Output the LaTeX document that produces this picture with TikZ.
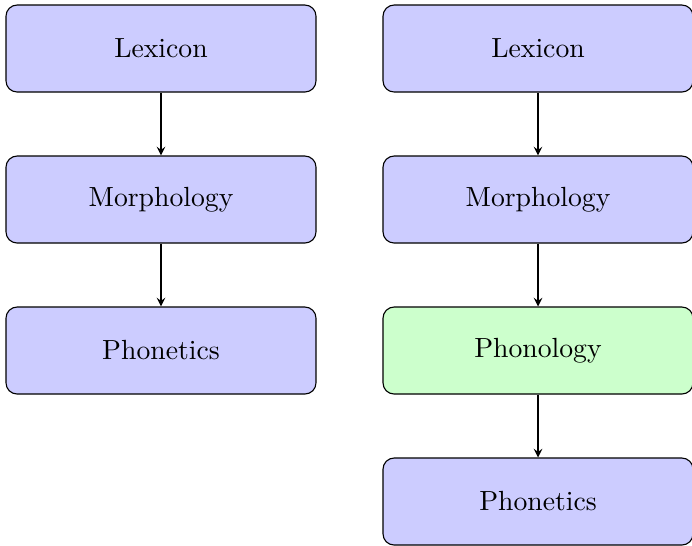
\documentclass[tikz,border=0pt]{standalone}
\usetikzlibrary{arrows}
\begin{document}
\begin{tikzpicture}[x=0.361pt,y=-0.361pt,
  stagebox/.style={draw=black, fill=blue!20, rounded corners=4pt, minimum width=111.9pt, minimum height=31.4pt, line width=0.4pt, inner sep=0pt},
  newbox/.style={stagebox, fill=green!20},
  flow/.style={-stealth, line width=0.4pt}]
\useasboundingbox (0,0) rectangle (692,545);
\node[stagebox] (l1) at (161,48.5) {Lexicon};
\node[stagebox] (l2) at (161,199.5) {Morphology};
\node[stagebox] (l3) at (161,350.5) {Phonetics};
\node[stagebox] (r1) at (538,48.5) {Lexicon};
\node[stagebox] (r2) at (538,199.5) {Morphology};
\node[newbox] (r3) at (538,350.5) {Phonology};
\node[stagebox] (r4) at (538,501.5) {Phonetics};
\draw[flow] (l1) -- (l2);
\draw[flow] (l2) -- (l3);
\draw[flow] (r1) -- (r2);
\draw[flow] (r2) -- (r3);
\draw[flow] (r3) -- (r4);
\end{tikzpicture}
\end{document}
